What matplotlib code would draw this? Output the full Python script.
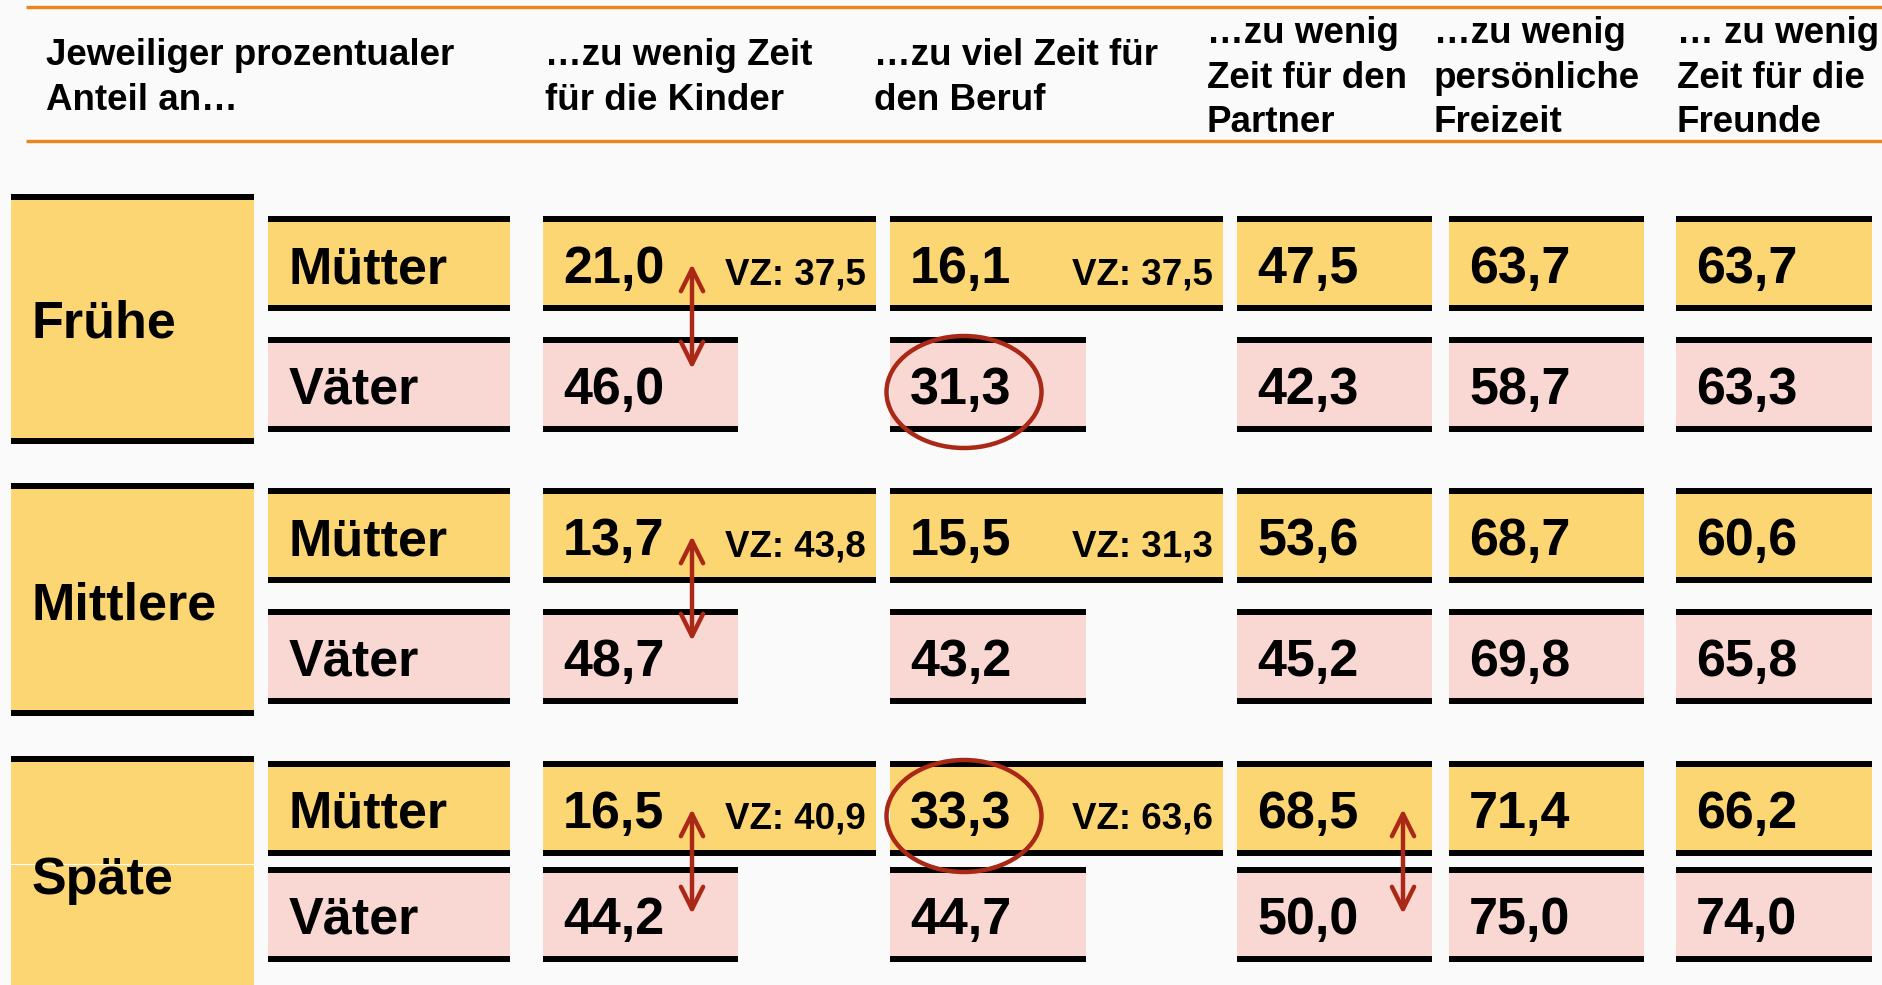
import matplotlib.pyplot as plt
from matplotlib.patches import Rectangle, Ellipse, FancyArrowPatch

# Kopfzeile (jede Zeile ein eigener Text)
header_first = ['Jeweiliger prozentualer', 'Anteil an…']
header_cols = [
    ['…zu wenig Zeit', 'für die Kinder'],
    ['…zu viel Zeit für', 'den Beruf'],
    ['…zu wenig', 'Zeit für den', 'Partner'],
    ['…zu wenig', 'persönliche', 'Freizeit'],
    ['… zu wenig', 'Zeit für die', 'Freunde'],
]

groups = ['Frühe', 'Mittlere', 'Späte']
rows = ['Mütter', 'Väter']

# Werte in Prozent: Mütter / Väter je Gruppe
kinder_m = [21.0, 13.7, 16.5]
kinder_v = [46.0, 48.7, 44.2]
kinder_vz = [37.5, 43.8, 40.9]
beruf_m = [16.1, 15.5, 33.3]
beruf_v = [31.3, 43.2, 44.7]
beruf_vz = [37.5, 31.3, 63.6]
partner_m = [47.5, 53.6, 68.5]
partner_v = [42.3, 45.2, 50.0]
freizeit_m = [63.7, 68.7, 71.4]
freizeit_v = [58.7, 69.8, 75.0]
freunde_m = [63.7, 60.6, 66.2]
freunde_v = [63.3, 65.8, 74.0]

mothers = [kinder_m, beruf_m, partner_m, freizeit_m, freunde_m]
fathers = [kinder_v, beruf_v, partner_v, freizeit_v, freunde_v]
vz = {0: kinder_vz, 1: beruf_vz}

# Markierungen: Pfeile (Gruppe, Spalte) und Kreise (Gruppe, Zeile, Spalte)
arrows = [(0, 0), (1, 0), (2, 0), (2, 2)]
circles = [(0, 1, 1), (2, 0, 1)]

# Layout in Pixeln
W, H = 1883, 985
YELLOW = '#FDD674'
PINK = '#F9D7D3'
RED = '#AA2816'
ORANGE = '#EE841C'
BAND = 6
BOX_H = 95
FONT = 'Liberation Sans'

col_x = [(543, 876, 738), (890, 1223, 1086), (1237, 1432, 1432),
         (1449, 1644, 1644), (1676, 1872, 1872)]
big_top = [194, 483, 756]
big_bot = [444, 716, 1010]
m_top = [216, 488, 761]
v_top = [337, 609, 867]
group_base = [338, 619, 894]


def fmt(v):
    return f'{v:.1f}'.replace('.', ',')


def box(ax, x0, x1, top, h, color):
    """Kasten mit schwarzem Balken oben und unten"""
    ax.add_patch(Rectangle((x0, top), x1 - x0, h, facecolor=color, edgecolor='none'))
    ax.add_patch(Rectangle((x0, top), x1 - x0, BAND, facecolor='black', edgecolor='none'))
    ax.add_patch(Rectangle((x0, top + h - BAND), x1 - x0, BAND, facecolor='black', edgecolor='none'))


def txt(ax, x, y, s, size, ha='left'):
    ax.text(x, y, s, fontsize=size, fontweight='bold', family=FONT,
            ha=ha, va='baseline', color='black')


def main():
    fig = plt.figure(figsize=(W / 100, H / 100), dpi=100)
    fig.patch.set_facecolor('#FAFAFA')
    ax = fig.add_axes([0, 0, 1, 1])
    ax.set_xlim(0, W)
    ax.set_ylim(H, 0)
    ax.axis('off')

    # orange Linien der Kopfzeile
    ax.plot([26, W], [7, 7], color=ORANGE, lw=2.4, solid_capstyle='butt')
    ax.plot([26, W], [141, 141], color=ORANGE, lw=2.4, solid_capstyle='butt')

    for i, line in enumerate(header_first):
        txt(ax, 46, 65 + i * 45, line, 26.5)
    head_x = [545, 874, 1207, 1434, 1677]
    for c, lines in enumerate(header_cols):
        y0 = 65 if len(lines) == 2 else 43
        for i, line in enumerate(lines):
            txt(ax, head_x[c], y0 + i * 44.5, line, 26.5)

    for g, name in enumerate(groups):
        # große Gruppenbox links
        box(ax, 11, 254, big_top[g], big_bot[g] - big_top[g], YELLOW)
        txt(ax, 32, group_base[g], name, 37.5)

        tops = [m_top[g], v_top[g]]
        for r, label in enumerate(rows):
            color = YELLOW if r == 0 else PINK
            box(ax, 268, 510, tops[r], BOX_H, color)
            txt(ax, 289, tops[r] + 67, label, 37.5)

            vals = mothers if r == 0 else fathers
            for c, (x0, xm, xv) in enumerate(col_x):
                x1 = xm if r == 0 else xv
                box(ax, x0, x1, tops[r], BOX_H, color)
                txt(ax, x0 + 20, tops[r] + 67, fmt(vals[c][g]), 37.5)
                if r == 0 and c in vz:
                    txt(ax, xm - 10, tops[r] + 68, 'VZ: ' + fmt(vz[c][g]), 26.5, ha='right')

    # weiße Haarlinie in der Späte-Box
    ax.plot([11, 254], [864, 864], color='white', lw=0.8)

    # Doppelpfeile
    arrow_x = {0: 692, 2: 1403}
    for g, c in arrows:
        y0 = m_top[g] + 48
        arr = FancyArrowPatch((arrow_x[c], y0), (arrow_x[c], y0 + 105),
                              arrowstyle='<->,head_length=16,head_width=8',
                              mutation_scale=1, color=RED, lw=3.2,
                              shrinkA=0, shrinkB=0)
        ax.add_patch(arr)

    # Kreise
    for g, r, c in circles:
        top = m_top[g] if r == 0 else v_top[g]
        ax.add_patch(Ellipse((964, top + 55), 155, 112, fill=False,
                             edgecolor=RED, lw=3.2))

    fig.savefig('out.png', dpi=100, facecolor=fig.get_facecolor())


if __name__ == '__main__':
    main()
